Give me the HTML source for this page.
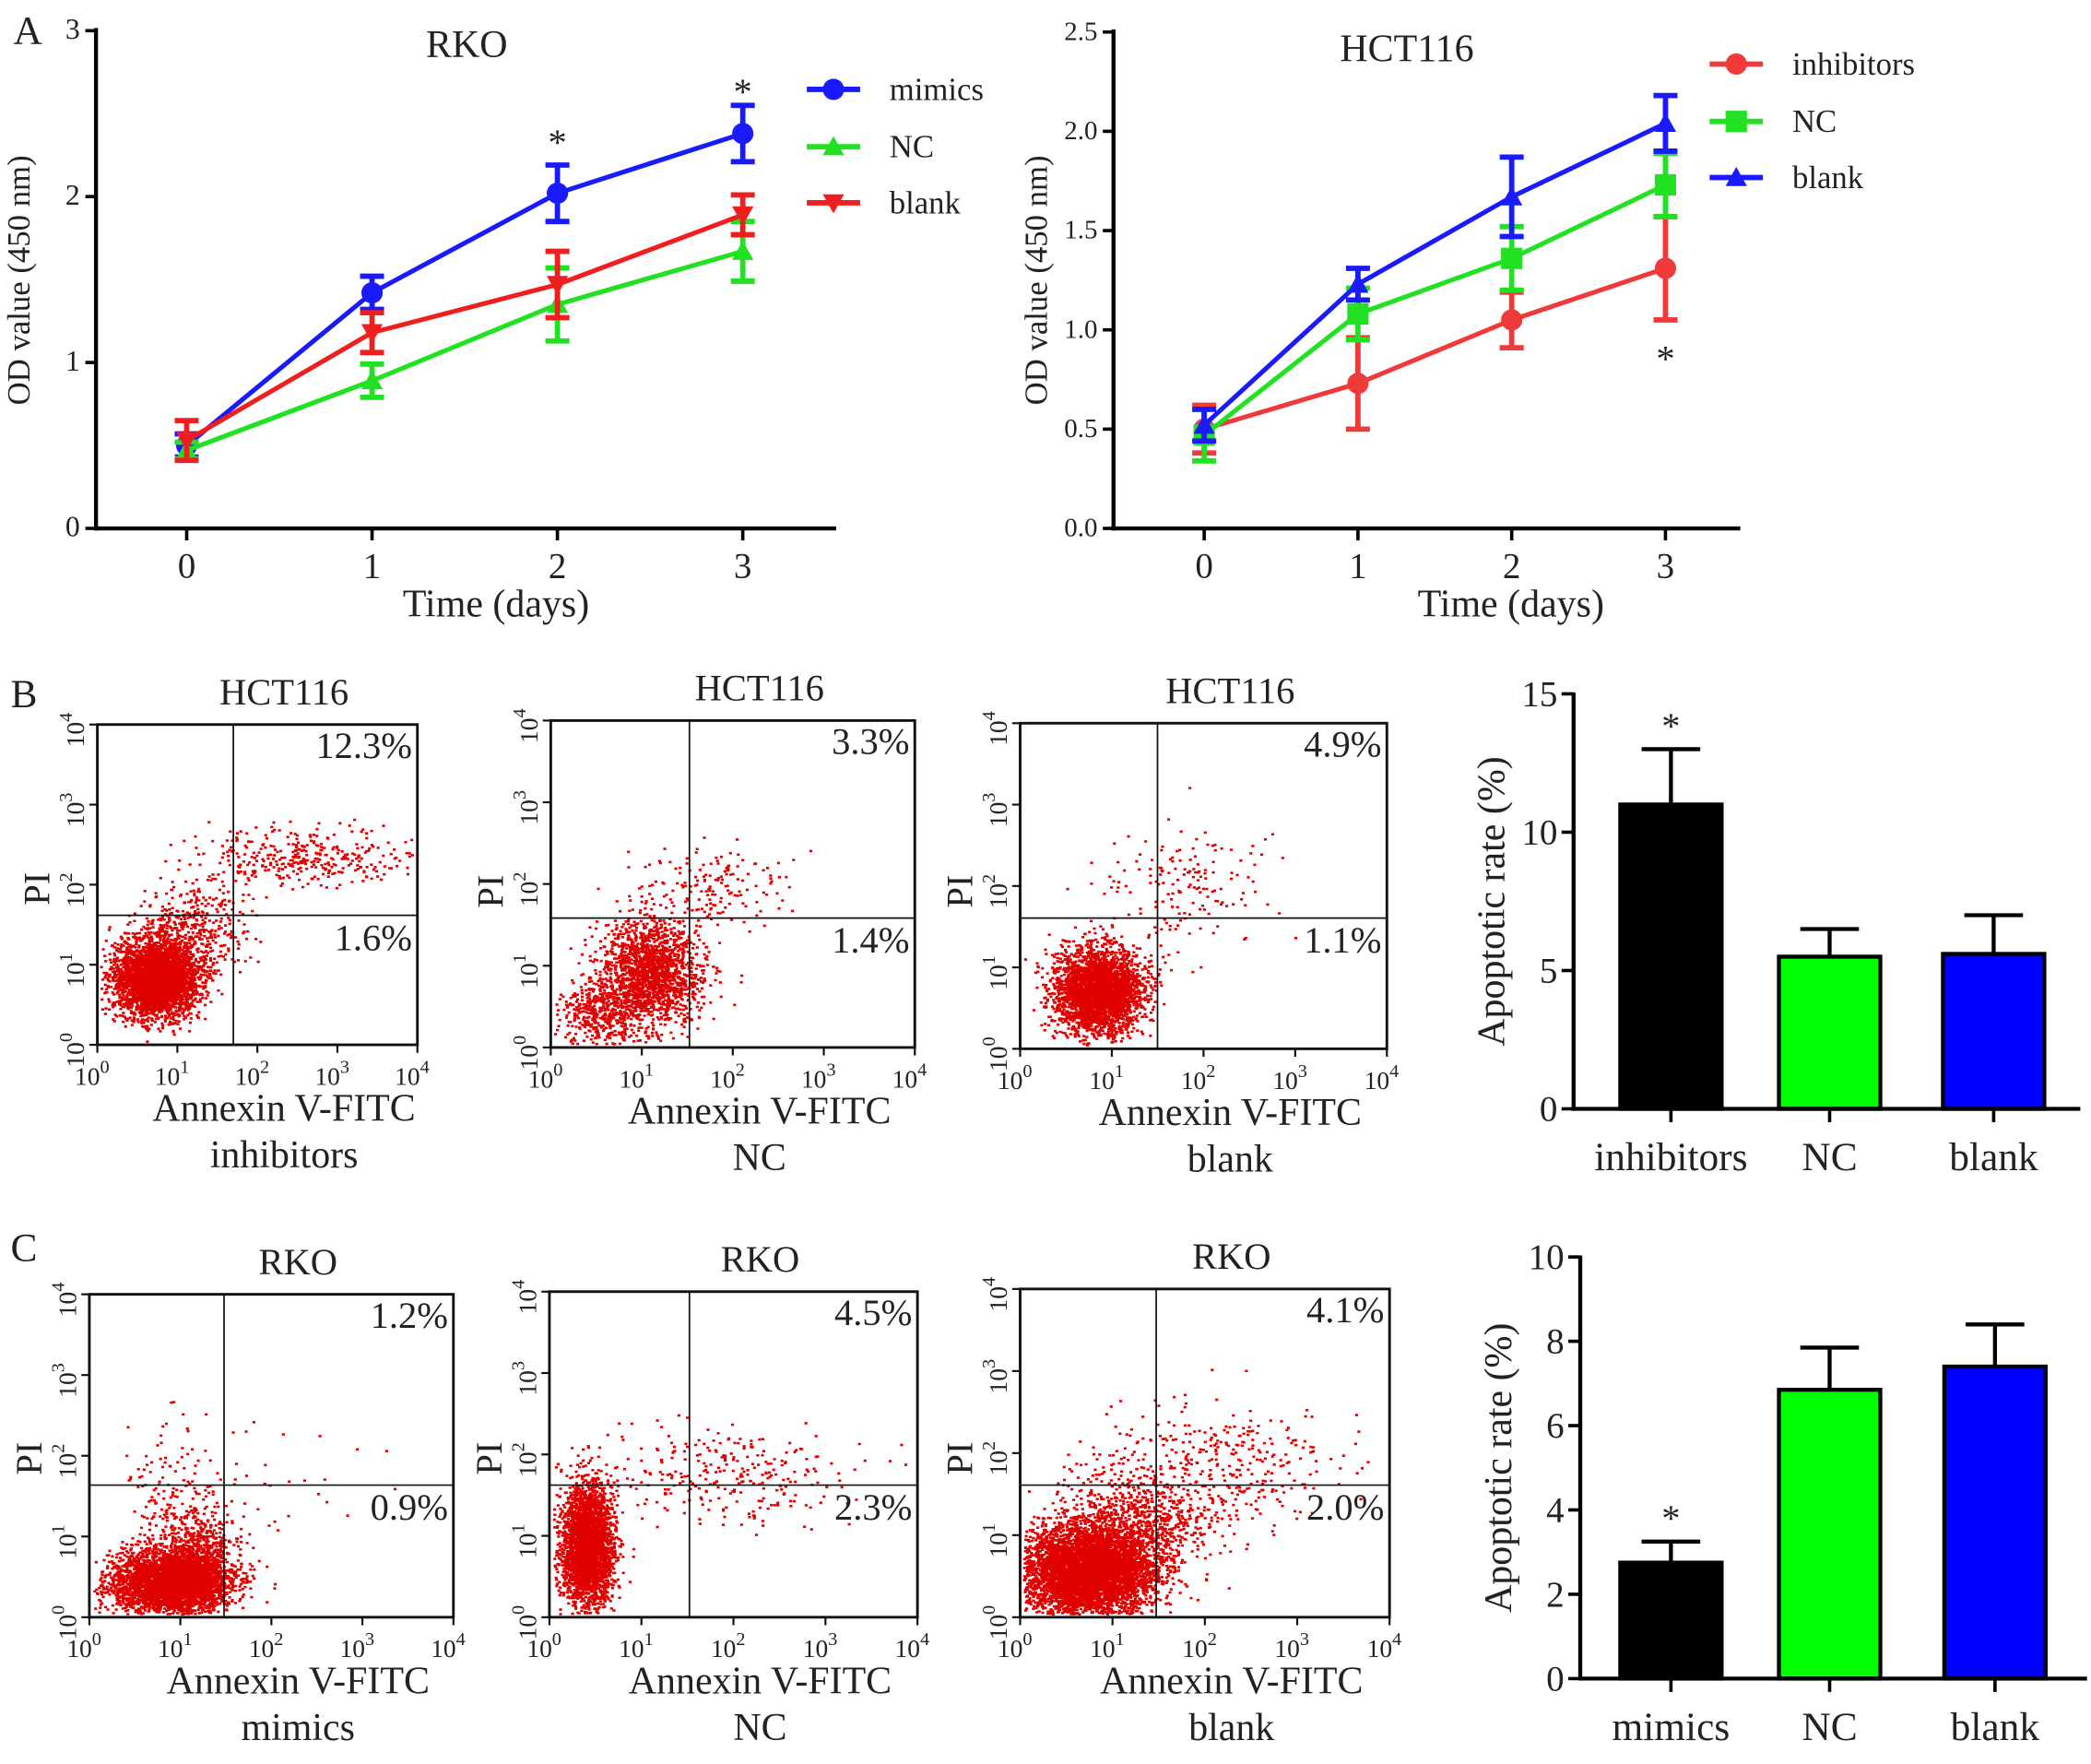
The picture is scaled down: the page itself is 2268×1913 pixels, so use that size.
<!DOCTYPE html>
<html><head><meta charset="utf-8"><title>Figure</title>
<style>html,body{margin:0;padding:0;background:#fff}svg{display:block}svg text{font-family:"Liberation Serif","DejaVu Serif",serif !important;fill:#222}</style>
</head><body>
<svg id="fig" width="2268" height="1913" viewBox="0 0 1568 1322" preserveAspectRatio="none" font-family="Liberation Serif, serif" xmlns="http://www.w3.org/2000/svg"></svg>
<script>
// ---------- Panel A data ----------
const days = [0, 1, 2, 3];
const rkoMimics = [0.50, 1.42, 2.02, 2.38];
const rkoMimicsErr = [0.07, 0.10, 0.17, 0.17];
const rkoNC = [0.47, 0.89, 1.35, 1.67];
const rkoNCErr = [0.05, 0.10, 0.22, 0.18];
const rkoBlank = [0.53, 1.18, 1.47, 1.89];
const rkoBlankErr = [0.12, 0.12, 0.20, 0.12];
const rkoTicks = [0, 1, 2, 3];
const hctInhib = [0.50, 0.73, 1.05, 1.31];
const hctInhibErr = [0.12, 0.23, 0.14, 0.26];
const hctNC = [0.47, 1.08, 1.36, 1.73];
const hctNCErr = [0.13, 0.13, 0.16, 0.16];
const hctBlank = [0.52, 1.23, 1.67, 2.04];
const hctBlankErr = [0.08, 0.08, 0.20, 0.14];
const hctTicks = ["0.0", "0.5", "1.0", "1.5", "2.0", "2.5"];
// ---------- Bar data ----------
const barCatsB = ["inhibitors", "NC", "blank"];
const barValsB = [11.0, 5.5, 5.6];
const barErrB = [2.0, 1.0, 1.4];
const barTicksB = [0, 5, 10, 15];
const barCatsC = ["mimics", "NC", "blank"];
const barValsC = [2.75, 6.85, 7.4];
const barErrC = [0.5, 1.0, 1.0];
const barTicksC = [0, 2, 4, 6, 8, 10];
// ---------- Flow percentages ----------
const flowTitles = ["HCT116", "HCT116", "HCT116", "RKO", "RKO", "RKO"];
const flowGroups = ["inhibitors", "NC", "blank", "mimics", "NC", "blank"];
const flowUR = ["12.3%", "3.3%", "4.9%", "1.2%", "4.5%", "4.1%"];
const flowLR = ["1.6%", "1.4%", "1.1%", "0.9%", "2.3%", "2.0%"];

const NS = "http://www.w3.org/2000/svg";
const svg = document.getElementById('fig');
function mk(tag, attrs, parent, txt) {
  const e = document.createElementNS(NS, tag);
  for (const k in attrs) e.setAttribute(k, attrs[k]);
  if (txt !== undefined) e.textContent = txt;
  (parent || svg).appendChild(e);
  return e;
}
function grp(name) {
  const g = mk('g', {});
  
  
  return g;
}
function label(parent, x, y, s, size, name, anchor, rot) {
  const a = {x: x, y: y, 'font-size': size, 'text-anchor': anchor || 'middle', 'font-family': 'Liberation Serif, serif'};
  if (rot) a.transform = 'rotate(-90 ' + x + ' ' + y + ')';
  const t = mk('text', a, parent, s);
  
  
  return t;
}
function marker(parent, shape, x, y, color, r) {
  let m;
  if (shape === 'circle') m = mk('circle', {cx: x, cy: y, r: r, fill: color}, parent);
  else if (shape === 'square') m = mk('rect', {x: x - r, y: y - r, width: 2 * r, height: 2 * r, fill: color}, parent);
  else if (shape === 'up') m = mk('polygon', {points: (x - r) + ',' + (y + r * 0.8) + ' ' + (x + r) + ',' + (y + r * 0.8) + ' ' + x + ',' + (y - r), fill: color}, parent);
  else m = mk('polygon', {points: (x - r) + ',' + (y - r * 0.8) + ' ' + (x + r) + ',' + (y - r * 0.8) + ' ' + x + ',' + (y + r), fill: color}, parent);
  return m;
}

// ---------- Panel A ----------
label(svg, 10, 33, "A", 30, 'panel-label-a', 'start');
function lineChart(o) {
  const g = grp(o.name);
  const yS = v => o.y0 - (v - o.vmin) / (o.vmax - o.vmin) * (o.y0 - o.y1);
  const xS = d => o.xs0 + d * o.xstep;
  mk('line', {x1: o.ax, y1: o.y1 - 2, x2: o.ax, y2: o.y0 + 1.5, stroke: '#000', 'stroke-width': 3}, g);
  mk('line', {x1: o.ax - 1.5, y1: o.y0, x2: o.axEnd, y2: o.y0, stroke: '#000', 'stroke-width': 3}, g);
  o.ticks.forEach(t => {
    const v = parseFloat(t);
    const y = yS(v);
    mk('line', {x1: o.ax - 8, y1: y, x2: o.ax, y2: y, stroke: '#000', 'stroke-width': 2.5}, g);
    label(g, o.ax - 12, y + 6, t, o.tickSize, 'y-tick', 'end');
  });
  days.forEach(d => {
    mk('line', {x1: xS(d), y1: o.y0, x2: xS(d), y2: o.y0 + 9, stroke: '#000', 'stroke-width': 2.5}, g);
    label(g, xS(d), o.y0 + 37, String(d), 27, 'x-tick');
  });
  label(g, o.xLabelX, 462, "Time (days)", 29, 'x-axis-title');
  label(g, o.ax - 50, 210, "OD value (450 nm)", 24, 'y-axis-title', 'middle', true);
  label(g, o.titleX, o.titleY, o.title, 29, 'chart-title');
  o.series.forEach((s, si) => {
    const sg = mk('g', {}, g);
    
    
    const pts = days.map(d => xS(d) + ',' + yS(s.vals[d])).join(' ');
    mk('polyline', {points: pts, fill: 'none', stroke: s.color, 'stroke-width': 3.5}, sg);
    days.forEach(d => {
      const x = xS(d), yh = yS(s.vals[d] + s.err[d]), yl = yS(s.vals[d] - s.err[d]);
      mk('line', {x1: x, y1: yh, x2: x, y2: yl, stroke: s.color, 'stroke-width': 4}, sg);
      mk('line', {x1: x - 9, y1: yh, x2: x + 9, y2: yh, stroke: s.color, 'stroke-width': 4}, sg);
      mk('line', {x1: x - 9, y1: yl, x2: x + 9, y2: yl, stroke: s.color, 'stroke-width': 4}, sg);
      const m = marker(sg, s.shape, x, yS(s.vals[d]), s.color, 8);
      
      
    });
    const ly = o.legY[si];
    const lg = mk('g', {}, g);
    
    
    mk('line', {x1: o.legX, y1: ly, x2: o.legX + 40, y2: ly, stroke: s.color, 'stroke-width': 4}, lg);
    marker(lg, s.shape, o.legX + 20, ly, s.color, 8);
    label(lg, o.legX + 62, ly + 8, s.label, 24, 'legend-label', 'start');
  });
  o.stars.forEach(st => label(g, xS(st[0]), st[1], "*", 28, 'significance-star'));
}
lineChart({name: 'rko-growth-chart', ax: 72, axEnd: 627, y0: 396, y1: 23, vmin: 0, vmax: 3, xs0: 140, xstep: 139,
  ticks: rkoTicks.map(String), tickSize: 22, xLabelX: 372, title: "RKO", titleX: 350, titleY: 43,
  legX: 605, legY: [67, 110, 152],
  series: [{label: 'mimics', vals: rkoMimics, err: rkoMimicsErr, color: '#1a1aff', shape: 'circle'},
           {label: 'NC', vals: rkoNC, err: rkoNCErr, color: '#22e022', shape: 'up'},
           {label: 'blank', vals: rkoBlank, err: rkoBlankErr, color: '#f01f1f', shape: 'down'}],
  stars: [[2, 116], [3, 78]]});
lineChart({name: 'hct116-growth-chart', ax: 835, axEnd: 1305, y0: 396, y1: 24, vmin: 0, vmax: 2.5, xs0: 903, xstep: 115.3,
  ticks: hctTicks, tickSize: 20, xLabelX: 1133, title: "HCT116", titleX: 1055, titleY: 46,
  legX: 1282, legY: [48, 91, 133],
  series: [{label: 'inhibitors', vals: hctInhib, err: hctInhibErr, color: '#f03a3a', shape: 'circle'},
           {label: 'NC', vals: hctNC, err: hctNCErr, color: '#22e022', shape: 'square'},
           {label: 'blank', vals: hctBlank, err: hctBlankErr, color: '#1a1aff', shape: 'up'}],
  stars: [[3, 278]]});

// ---------- Flow panels ----------
label(svg, 8, 530, "B", 30, 'panel-label-b', 'start');
label(svg, 8, 945, "C", 30, 'panel-label-c', 'start');
const flowBoxes = [[73, 543, 313, 783, 175, 686], [413, 540, 686, 785, 517, 688], [765, 542, 1040, 786, 868, 688],
                   [67, 970, 340, 1212, 168, 1113], [412, 968, 688, 1212, 517, 1113], [765, 966, 1042, 1212, 867, 1113]];
// cluster specs: [fx, fy, sx, sy, count] in fractions of box
const clusters = [
  [[0.18, 0.79, 0.065, 0.06, 3500], [0.30, 0.64, 0.08, 0.07, 400], [0.62, 0.41, 0.17, 0.045, 350]],
  [[0.27, 0.77, 0.07, 0.08, 1800], [0.13, 0.90, 0.05, 0.05, 400], [0.45, 0.50, 0.11, 0.06, 160]],
  [[0.21, 0.82, 0.06, 0.065, 3000], [0.45, 0.50, 0.12, 0.09, 160]],
  [[0.22, 0.89, 0.08, 0.05, 3500], [0.30, 0.80, 0.05, 0.08, 600], [0.20, 0.62, 0.05, 0.12, 120], [0.45, 0.55, 0.15, 0.10, 40]],
  [[0.10, 0.78, 0.035, 0.09, 3000], [0.45, 0.55, 0.18, 0.08, 300]],
  [[0.18, 0.86, 0.09, 0.07, 5000], [0.30, 0.72, 0.10, 0.08, 800], [0.50, 0.55, 0.17, 0.10, 400]]];
let seed = 12345;
function rnd() { seed = (seed * 1103515245 + 12345) % 2147483648; return seed / 2147483648; }
function gauss() { return Math.sqrt(-2 * Math.log(rnd() + 1e-9)) * Math.cos(2 * Math.PI * rnd()); }
flowBoxes.forEach((b, i) => {
  const [x0, y0, x1, y1, qx, qy] = b;
  const g = grp('flow-plot-' + flowTitles[i].toLowerCase() + '-' + flowGroups[i].toLowerCase());
  const w = x1 - x0, h = y1 - y0;
  let d = '';
  clusters[i].forEach(c => {
    for (let k = 0; k < c[4]; k++) {
      const px = x0 + w * (c[0] + c[2] * gauss());
      const py = y0 + h * (c[1] + c[3] * gauss());
      if (px > x0 + 2 && px < x1 - 3 && py > y0 + 2 && py < y1 - 3) d += 'M' + px.toFixed(1) + ' ' + py.toFixed(1) + 'h2.2v1.8h-2.2z';
    }
  });
  mk('path', {d: d, fill: '#e00000'}, g);
  mk('rect', {x: x0, y: y0, width: w, height: h, fill: 'none', stroke: '#111', 'stroke-width': 2}, g);
  mk('line', {x1: qx, y1: y0, x2: qx, y2: y1, stroke: '#111', 'stroke-width': 1.2}, g);
  mk('line', {x1: x0, y1: qy, x2: x1, y2: qy, stroke: '#111', 'stroke-width': 1.2}, g);
  for (let e = 0; e <= 4; e++) {
    const tx = x0 + w * e / 4, ty = y1 - h * e / 4;
    mk('line', {x1: tx, y1: y1, x2: tx, y2: y1 + 6, stroke: '#111', 'stroke-width': 1.5}, g);
    mk('line', {x1: x0 - 6, y1: ty, x2: x0, y2: ty, stroke: '#111', 'stroke-width': 1.5}, g);
    const xt = label(g, tx - 4, y1 + 30, "10", 19, 'x-tick');
    mk('tspan', {dy: -9, 'font-size': 14}, xt, String(e));
    const yt = label(g, x0 - 10, ty + 4, "10", 19, 'y-tick', 'middle', true);
    mk('tspan', {dy: -9, 'font-size': 14}, yt, String(e));
  }
  label(g, (x0 + x1) / 2 + 20, y0 - 15, flowTitles[i], 28, 'flow-title');
  label(g, x1 - 4, y0 + 25, flowUR[i], 28, 'upper-right-percent', 'end');
  label(g, x1 - 4, qy + 26, flowLR[i], 28, 'lower-right-percent', 'end');
  label(g, x0 - 36, qy - 20, "PI", 28, 'y-axis-title', 'middle', true);
  label(g, (x0 + x1) / 2 + 20, y1 + 57, "Annexin V-FITC", 29, 'x-axis-title');
  label(g, (x0 + x1) / 2 + 20, y1 + 92, flowGroups[i], 29, 'group-label');
});

// ---------- Bar charts ----------
function barChart(o) {
  const g = grp(o.name);
  const yS = v => o.y0 - v / o.vmax * (o.y0 - o.y1);
  o.vals.forEach((v, i) => {
    const cx = o.cx[i];
    const top = yS(v), et = yS(v + o.err[i]);
    mk('line', {x1: cx, y1: top, x2: cx, y2: et, stroke: '#000', 'stroke-width': 3}, g);
    mk('line', {x1: cx - 22, y1: et, x2: cx + 22, y2: et, stroke: '#000', 'stroke-width': 3}, g);
    const r = mk('rect', {x: cx - o.bw / 2, y: top, width: o.bw, height: o.y0 - top, fill: o.colors[i], stroke: '#000', 'stroke-width': 3}, g);
    
    
    mk('line', {x1: cx, y1: o.y0, x2: cx, y2: o.y0 + 10, stroke: '#000', 'stroke-width': 2.5}, g);
    label(g, cx, o.y0 + 46, o.cats[i], 30, 'x-tick-label');
  });
  mk('line', {x1: o.ax, y1: o.y1 - 1, x2: o.ax, y2: o.y0 + 1.5, stroke: '#000', 'stroke-width': 3}, g);
  mk('line', {x1: o.ax - 1.5, y1: o.y0, x2: o.axEnd, y2: o.y0, stroke: '#000', 'stroke-width': 3}, g);
  o.ticks.forEach(t => {
    const y = yS(t);
    mk('line', {x1: o.ax - 9, y1: y, x2: o.ax, y2: y, stroke: '#000', 'stroke-width': 2.5}, g);
    label(g, o.ax - 12, y + 9, String(t), 27, 'y-tick', 'end');
  });
  label(g, o.ax - 52, (o.y0 + o.y1) / 2, "Apoptotic rate  (%)", 29, 'y-axis-title', 'middle', true);
  label(g, o.cx[0], yS(o.vals[0] + o.err[0]) - 8, "*", 28, 'significance-star');
}
barChart({name: 'hct116-apoptosis-bar-chart', ax: 1180, axEnd: 1560, y0: 831, y1: 520, vmax: 15, cx: [1253, 1372, 1495], bw: 76,
  cats: barCatsB, vals: barValsB, err: barErrB, ticks: barTicksB, colors: ['#000', '#00ff00', '#0000ff']});
barChart({name: 'rko-apoptosis-bar-chart', ax: 1185, axEnd: 1565, y0: 1258, y1: 942, vmax: 10, cx: [1253, 1372, 1496], bw: 76,
  cats: barCatsC, vals: barValsC, err: barErrC, ticks: barTicksC, colors: ['#000', '#00ff00', '#0000ff']});
</script>
</body></html>
